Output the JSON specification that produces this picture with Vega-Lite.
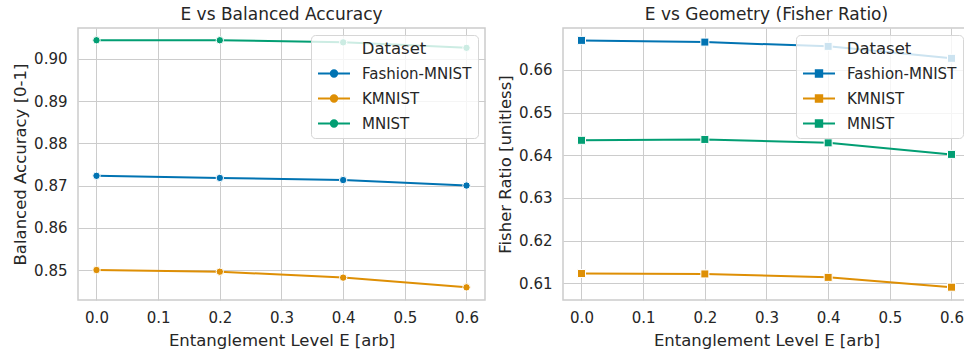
{
  "$schema": "https://vega.github.io/schema/vega-lite/v6.json",
  "padding": {"left": 11, "top": 5, "right": 0, "bottom": 0},
  "background": "white",
  "config": {
    "font": "DejaVu Sans",
    "view": {"stroke": "#cccccc", "strokeWidth": 1.5},
    "axis": {"grid": true, "gridColor": "#cccccc", "gridWidth": 1, "domain": false, "ticks": false, "labelFontSize": 15, "labelColor": "#262626", "titleFontSize": 16.5, "titleColor": "#262626", "titleFontWeight": "normal", "labelPadding": 11, "titlePadding": 5},
    "title": {"fontSize": 17, "fontWeight": "normal", "color": "#262626", "offset": 4},
    "legend": {"orient": "top-right", "offset": 7, "padding": 6, "fillColor": "rgba(255,255,255,0.8)", "strokeColor": "#d6d6d6", "cornerRadius": 4, "titleFontSize": 16.5, "titleFontWeight": "normal", "titleColor": "#262626", "titleAnchor": "middle", "titlePadding": 7, "labelFontSize": 15, "labelColor": "#262626", "symbolSize": 256, "symbolStrokeWidth": 2, "labelOffset": 27, "rowPadding": 8}
  },
  "datasets": {
    "acc": [
      {"E": 0.0, "value": 0.8723, "Dataset": "Fashion-MNIST"},
      {"E": 0.2, "value": 0.8718, "Dataset": "Fashion-MNIST"},
      {"E": 0.4, "value": 0.8713, "Dataset": "Fashion-MNIST"},
      {"E": 0.6, "value": 0.8700, "Dataset": "Fashion-MNIST"},
      {"E": 0.0, "value": 0.8500, "Dataset": "KMNIST"},
      {"E": 0.2, "value": 0.8496, "Dataset": "KMNIST"},
      {"E": 0.4, "value": 0.8482, "Dataset": "KMNIST"},
      {"E": 0.6, "value": 0.8459, "Dataset": "KMNIST"},
      {"E": 0.0, "value": 0.9044, "Dataset": "MNIST"},
      {"E": 0.2, "value": 0.9044, "Dataset": "MNIST"},
      {"E": 0.4, "value": 0.9039, "Dataset": "MNIST"},
      {"E": 0.6, "value": 0.9026, "Dataset": "MNIST"}
    ],
    "fisher": [
      {"E": 0.0, "value": 0.6669, "Dataset": "Fashion-MNIST"},
      {"E": 0.2, "value": 0.6665, "Dataset": "Fashion-MNIST"},
      {"E": 0.4, "value": 0.6655, "Dataset": "Fashion-MNIST"},
      {"E": 0.6, "value": 0.6627, "Dataset": "Fashion-MNIST"},
      {"E": 0.0, "value": 0.6123, "Dataset": "KMNIST"},
      {"E": 0.2, "value": 0.6122, "Dataset": "KMNIST"},
      {"E": 0.4, "value": 0.6114, "Dataset": "KMNIST"},
      {"E": 0.6, "value": 0.6091, "Dataset": "KMNIST"},
      {"E": 0.0, "value": 0.6435, "Dataset": "MNIST"},
      {"E": 0.2, "value": 0.6437, "Dataset": "MNIST"},
      {"E": 0.4, "value": 0.6429, "Dataset": "MNIST"},
      {"E": 0.6, "value": 0.6402, "Dataset": "MNIST"}
    ]
  },
  "spacing": 78,
  "bounds": "flush",
  "resolve": {"scale": {"color": "independent"}},
  "hconcat": [
    {
      "title": "E vs Balanced Accuracy",
      "width": 407,
      "height": 272,
      "data": {"name": "acc"},
      "encoding": {
        "x": {"field": "E", "type": "quantitative", "scale": {"domain": [-0.03, 0.63], "nice": false, "zero": false}, "axis": {"values": [0, 0.1, 0.2, 0.3, 0.4, 0.5, 0.6], "format": ".1f", "title": "Entanglement Level E [arb]", "labelPadding": 10, "titlePadding": 7}},
        "y": {"field": "value", "type": "quantitative", "scale": {"domain": [0.8429, 0.9073], "nice": false, "zero": false}, "axis": {"values": [0.85, 0.86, 0.87, 0.88, 0.89, 0.90], "format": ".2f", "title": "Balanced Accuracy [0-1]"}},
        "color": {"field": "Dataset", "type": "nominal", "scale": {"domain": ["Fashion-MNIST", "KMNIST", "MNIST"], "range": ["#0173b2", "#de8f05", "#029e73"]},
          "legend": {"title": "Dataset", "symbolType": "M-1,0L3,0M0.6,0A0.4,0.4,0,1,1,1.4,0A0.4,0.4,0,1,1,0.6,0Z",
            "encode": {"symbols": {"update": {
              "fill": {"signal": "datum.value === 'KMNIST' ? '#de8f05' : datum.value === 'MNIST' ? '#029e73' : '#0173b2'"},
              "stroke": {"signal": "datum.value === 'KMNIST' ? '#de8f05' : datum.value === 'MNIST' ? '#029e73' : '#0173b2'"}
            }}}}}
      },
      "layer": [
        {"mark": {"type": "line", "strokeWidth": 2}},
        {"mark": {"type": "point", "filled": true, "shape": "circle", "size": 55, "stroke": "white", "strokeWidth": 1, "opacity": 1},
         "encoding": {"color": {"field": "Dataset", "type": "nominal", "legend": null}}}
      ]
    },
    {
      "title": "E vs Geometry (Fisher Ratio)",
      "width": 407,
      "height": 272,
      "data": {"name": "fisher"},
      "encoding": {
        "x": {"field": "E", "type": "quantitative", "scale": {"domain": [-0.03, 0.63], "nice": false, "zero": false}, "axis": {"values": [0, 0.1, 0.2, 0.3, 0.4, 0.5, 0.6], "format": ".1f", "title": "Entanglement Level E [arb]", "labelPadding": 10, "titlePadding": 7}},
        "y": {"field": "value", "type": "quantitative", "scale": {"domain": [0.6061, 0.6698], "nice": false, "zero": false}, "axis": {"values": [0.61, 0.62, 0.63, 0.64, 0.65, 0.66], "format": ".2f", "title": "Fisher Ratio [unitless]"}},
        "color": {"field": "Dataset", "type": "nominal", "scale": {"domain": ["Fashion-MNIST", "KMNIST", "MNIST"], "range": ["#0173b2", "#de8f05", "#029e73"]},
          "legend": {"title": "Dataset", "symbolType": "M-1,0L3,0M0.6,-0.4L1.4,-0.4L1.4,0.4L0.6,0.4Z",
            "encode": {"symbols": {"update": {
              "fill": {"signal": "datum.value === 'KMNIST' ? '#de8f05' : datum.value === 'MNIST' ? '#029e73' : '#0173b2'"},
              "stroke": {"signal": "datum.value === 'KMNIST' ? '#de8f05' : datum.value === 'MNIST' ? '#029e73' : '#0173b2'"}
            }}}}}
      },
      "layer": [
        {"mark": {"type": "line", "strokeWidth": 2}},
        {"mark": {"type": "point", "filled": true, "shape": "square", "size": 64, "stroke": "white", "strokeWidth": 1, "opacity": 1},
         "encoding": {"color": {"field": "Dataset", "type": "nominal", "legend": null}}}
      ]
    }
  ]
}
